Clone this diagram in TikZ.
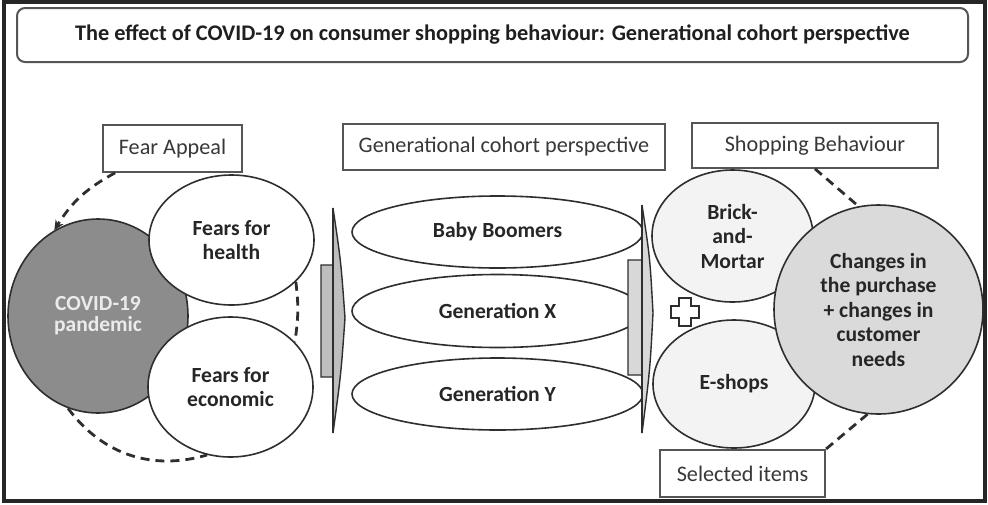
\documentclass[tikz,border=0pt]{standalone}
\usepackage{fontspec}
\setmainfont{Carlito}
\usetikzlibrary{shapes.geometric,arrows.meta}
\definecolor{lineg}{HTML}{2E2E2E}
\definecolor{boxg}{HTML}{555555}
\definecolor{covidg}{HTML}{8C8C8C}
\definecolor{chgg}{HTML}{DADADA}
\definecolor{shopg}{HTML}{F3F3F3}
\definecolor{arrowL}{HTML}{BEBEBE}
\definecolor{arrowR}{HTML}{D8D8D8}
\begin{document}
\begin{tikzpicture}[x=1pt,y=-1pt,
  lbl/.style={rectangle, draw=boxg, line width=1.7pt, fill=white, inner sep=0pt,
    font=\fontsize{22.2}{24}\selectfont, text=black!78},
  ell/.style={ellipse, draw=lineg, line width=1.6pt, fill=white, inner sep=0pt,
    align=center, font=\fontsize{21.6}{24.5}\selectfont\bfseries, text=black!85},
  dsh/.style={draw=lineg, line width=2.8pt, dash pattern=on 9pt off 6pt},
  blockarrow/.style={draw=lineg, line width=1.4pt},
]
\useasboundingbox (0,0) rectangle (988,504);
\fill[white] (0,0) rectangle (988,504);
\draw[line width=3.5pt, black!85] (4,2) rectangle (985,501);

% title
\node[draw=boxg, line width=2pt, rounded corners=8pt, minimum width=951pt,
  minimum height=54pt, inner sep=0pt, font=\fontsize{22.3}{24}\selectfont\bfseries,
  text=black!88] (title) at (492.5,35)
  {The effect of COVID-19 on consumer shopping behaviour: Generational cohort perspective};

% left group
\node[lbl, minimum width=139pt, minimum height=47pt] (fear) at (172.5,148.5) {Fear Appeal};
\node[ell, fill=covidg, minimum width=180pt, minimum height=194pt, text=black!8,
  font=\fontsize{21.5}{21}\selectfont\bfseries] (covid) at (98,316) {COVID-19\\pandemic};
\node[ell, minimum width=165pt, minimum height=130pt] (health) at (231.5,240) {Fears for\\health};
\node[ell, minimum width=165pt, minimum height=140pt] (econ) at (230.5,387) {Fears for\\economic};

\draw[dsh, -{Stealth[length=10pt,width=9pt]}] (fear.203) to[bend right=15] (covid.117);
\draw[dsh] (health.-33) to[bend left=8] (econ.35);
\draw[dsh] (covid.252) to[bend right=35] (econ.251);

% middle group
\node[lbl, minimum width=322pt, minimum height=46pt] (gen) at (504,147) {Generational cohort perspective};
\node[ell, minimum width=291pt, minimum height=72pt] (boom) at (497.5,232) {Baby Boomers};
\node[ell, minimum width=291pt, minimum height=73pt] (genx) at (497.5,311) {Generation X};
\node[ell, minimum width=291pt, minimum height=72pt] (geny) at (497.5,394) {Generation Y};

% block arrows
\filldraw[blockarrow, fill=arrowL] (321,265) -- (333,265) -- (333,208)
  .. controls (341,262) .. (345,318) .. controls (341,374) .. (333,433)
  -- (333,377) -- (321,377) -- cycle;
\draw[blockarrow] (333,208) -- (333,433);
\filldraw[blockarrow, fill=arrowR] (628,260) -- (642,260) -- (642,205)
  .. controls (650,258) .. (653,313) .. controls (650,370) .. (642,433)
  -- (642,375) -- (628,375) -- cycle;
\draw[blockarrow] (642,205) -- (642,433);

% right group
\node[lbl, minimum width=246pt, minimum height=45pt] (shop) at (815,145.5) {Shopping Behaviour};
\node[lbl, minimum width=165pt, minimum height=47pt] (sel) at (742.5,473.5) {Selected items};
\node[ell, fill=shopg, minimum width=161pt, minimum height=132pt] (brick) at (732.5,236) {Brick-\\and-\\Mortar};
\node[ell, fill=shopg, minimum width=162pt, minimum height=128pt] (eshop) at (734,384) {E-shops};
\node[ell, fill=chgg, minimum width=209pt, minimum height=209pt] (chg) at (878.5,309.5)
  {Changes in\\the purchase\\+ changes in\\customer\\needs};

\draw[dsh] (shop.south) -- (chg.101);
\draw[dsh] (chg.264) -- (sel.north east);

% plus sign
\filldraw[draw=lineg, fill=white, line width=2pt]
  (679,298) -- (691,298) -- (691,306) -- (699,306) -- (699,318) -- (691,318)
  -- (691,326) -- (679,326) -- (679,318) -- (671,318) -- (671,306) -- (679,306) -- cycle;
\end{tikzpicture}
\end{document}
